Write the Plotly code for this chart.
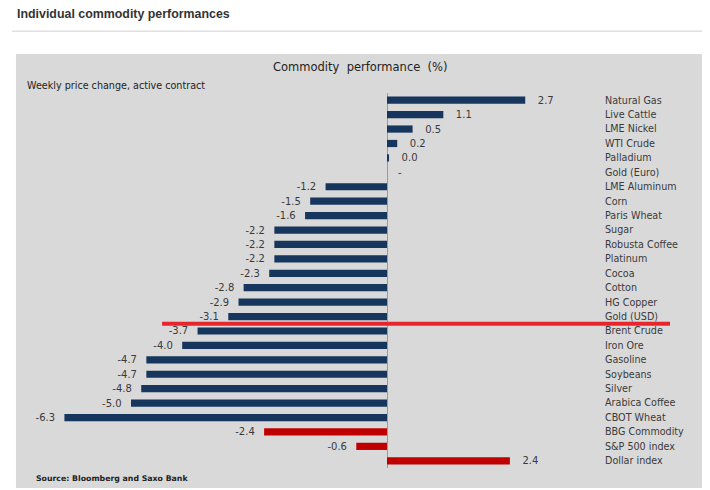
import plotly.graph_objects as go

categories = ["Natural Gas", "Live Cattle", "LME Nickel", "WTI Crude", "Palladium",
              "Gold (Euro)", "LME Aluminum", "Corn", "Paris Wheat", "Sugar",
              "Robusta Coffee", "Platinum", "Cocoa", "Cotton", "HG Copper",
              "Gold (USD)", "Brent Crude", "Iron Ore", "Gasoline", "Soybeans",
              "Silver", "Arabica Coffee", "CBOT Wheat", "BBG Commodity",
              "S&P 500 index", "Dollar index"]
values = [2.7, 1.1, 0.5, 0.2, 0.04, None, -1.2, -1.5, -1.6, -2.2,
          -2.2, -2.2, -2.3, -2.8, -2.9, -3.1, -3.7, -4.0, -4.7, -4.7,
          -4.8, -5.0, -6.3, -2.4, -0.6, 2.4]
benchmarks = ["BBG Commodity", "S&P 500 index", "Dollar index"]
missing_label = "-"

NAVY = "#17365d"
RED = "#c00000"
LABEL = "#3a3a3a"
FONT = "DejaVu Sans"

def fmt(v):
    if v is None:
        return ""
    s = f"{v:.1f}"
    return ("   " + s) if v >= 0 else (s + "  ")

fig = go.Figure()
for is_bench, color in [(False, NAVY), (True, RED)]:
    cats = [c for c in categories if (c in benchmarks) == is_bench]
    vals = [values[categories.index(c)] for c in cats]
    fig.add_trace(go.Bar(
        y=cats, x=vals, orientation="h", width=0.5,
        marker=dict(color=color, line=dict(width=0)),
        text=[fmt(v) for v in vals], textposition="outside", constraintext="none",
        textfont=dict(family=FONT, size=10, color=LABEL),
        cliponaxis=False, showlegend=False, hoverinfo="skip"))

# missing value marker
for c, v in zip(categories, values):
    if v is None:
        fig.add_annotation(x=0, y=c, xref="x", yref="y", text=missing_label,
                           showarrow=False, xanchor="left", xshift=9,
                           font=dict(family=FONT, size=10, color=LABEL))

# gray panel
fig.add_shape(type="rect", xref="paper", yref="paper",
              x0=-0.0429, x1=1.184, y0=-0.0533, y1=1.104,
              fillcolor="#d9d9d9", line=dict(width=0), layer="below")
# separator line at top
fig.add_shape(type="line", xref="paper", yref="paper",
              x0=-0.05, x1=1.187, y0=1.165, y1=1.165,
              line=dict(color="#d0d0d0", width=1))
# red highlight line between Gold (USD) and Brent Crude
split = categories.index("Gold (USD)") + 0.5
fig.add_shape(type="line", xref="paper", yref="y",
              x0=0.218, x1=1.125, y0=split, y1=split,
              line=dict(color="#e8242c", width=4))

fig.add_annotation(text="<b>Individual commodity performances</b>", xref="paper", yref="paper",
                   x=-0.045, y=1.21, xanchor="left", yanchor="middle", showarrow=False,
                   font=dict(family="Liberation Sans", size=12.4, color="#333333"))
fig.add_annotation(text="Commodity  performance  (%)", xref="paper", yref="paper",
                   x=0.572, y=1.069, xanchor="center", yanchor="middle", showarrow=False,
                   font=dict(family=FONT, size=11.5, color="#222222"))
fig.add_annotation(text="Weekly price change, active contract", xref="paper", yref="paper",
                   x=-0.027, y=1.019, xanchor="left", yanchor="middle", showarrow=False,
                   font=dict(family=FONT, size=9.6, color="#222222"))
fig.add_annotation(text="<b>Source: Bloomberg and Saxo Bank</b>", xref="paper", yref="paper",
                   x=-0.011, y=-0.027, xanchor="left", yanchor="middle", showarrow=False,
                   font=dict(family=FONT, size=7.8, color="#222222"))

fig.update_layout(
    width=702, height=482,
    margin=dict(l=32, r=110, t=85, b=22),
    paper_bgcolor="white", plot_bgcolor="rgba(0,0,0,0)",
    barmode="overlay",
    xaxis=dict(range=[-6.777, 4.16], showgrid=False, showticklabels=False,
               zeroline=True, zerolinecolor="#9a9a9a", zerolinewidth=1, fixedrange=True),
    yaxis=dict(categoryorder="array", categoryarray=categories,
               range=[len(categories) - 0.5, -0.5], side="right",
               showgrid=False, ticks="", ticklabelstandoff=4,
               tickfont=dict(family=FONT, size=9.6, color=LABEL)),
)

fig.write_html("out.html")
